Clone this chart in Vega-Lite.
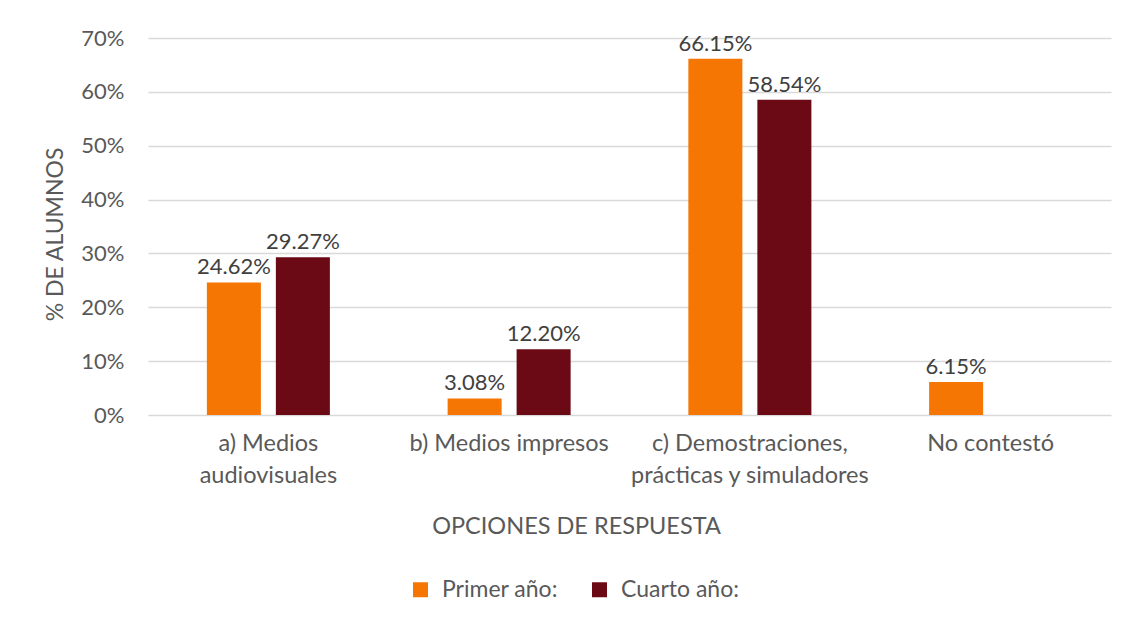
{
  "$schema": "https://vega.github.io/schema/vega-lite/v6.json",
  "autosize": {"type": "none"},
  "width": 963,
  "height": 377,
  "padding": {"left": 148, "top": 38, "right": 18, "bottom": 209},
  "background": "white",
  "config": {
    "view": {"stroke": null},
    "font": "Lato",
    "axis": {"labelFont": "Lato", "titleFont": "Lato"},
    "legend": {"labelFont": "Lato"}
  },
  "data": {
    "values": [
      {"opcion": "a) Medios|audiovisuales", "grupo": "Primer año:", "valor": 0.2462},
      {"opcion": "a) Medios|audiovisuales", "grupo": "Cuarto año:", "valor": 0.2927},
      {"opcion": "b) Medios impresos", "grupo": "Primer año:", "valor": 0.0308},
      {"opcion": "b) Medios impresos", "grupo": "Cuarto año:", "valor": 0.1220},
      {"opcion": "c) Demostraciones,|prácticas y simuladores", "grupo": "Primer año:", "valor": 0.6615},
      {"opcion": "c) Demostraciones,|prácticas y simuladores", "grupo": "Cuarto año:", "valor": 0.5854},
      {"opcion": "No contestó", "grupo": "Primer año:", "valor": 0.0615}
    ]
  },
  "encoding": {
    "x": {
      "field": "opcion",
      "type": "nominal",
      "sort": null,
      "scale": {"paddingInner": 0.489, "paddingOuter": 0.2445},
      "axis": {
        "title": "OPCIONES DE RESPUESTA",
        "titleFontSize": 23.5,
        "titleFontWeight": "normal",
        "titleColor": "#595959",
        "titlePadding": 28,
        "titleX": 428,
        "labelExpr": "split(datum.label, '|')",
        "labelAngle": 0,
        "labelFontSize": 23.5,
        "labelColor": "#595959",
        "labelLineHeight": 32,
        "labelPadding": 16,
        "labelLimit": 0,
        "ticks": false,
        "domain": false,
        "grid": false
      }
    },
    "xOffset": {
      "field": "grupo",
      "type": "nominal",
      "sort": ["Primer año:", "Cuarto año:"],
      "scale": {"domain": ["Primer año:", "Cuarto año:"], "paddingInner": 0.217, "paddingOuter": 0}
    },
    "y": {
      "field": "valor",
      "type": "quantitative",
      "scale": {"domain": [0, 0.7], "nice": false},
      "axis": {
        "title": "% DE ALUMNOS",
        "titleFontSize": 23,
        "titleFontWeight": "normal",
        "titleColor": "#595959",
        "titleX": -81,
        "titleY": 196,
        "values": [0, 0.1, 0.2, 0.3, 0.4, 0.5, 0.6, 0.7],
        "format": ".0%",
        "labelFontSize": 22,
        "labelColor": "#595959",
        "labelPadding": 24,
        "ticks": false,
        "domain": false,
        "grid": true,
        "gridColor": "#D9D9D9",
        "gridWidth": 1.5
      }
    }
  },
  "layer": [
    {
      "mark": {"type": "bar"},
      "encoding": {
        "color": {
          "field": "grupo",
          "type": "nominal",
          "scale": {"domain": ["Primer año:", "Cuarto año:"], "range": ["#F57603", "#6B0A14"]},
          "legend": {
            "title": null,
            "orient": "none",
            "direction": "horizontal",
            "legendX": 261,
            "legendY": 540,
            "symbolType": "square",
            "symbolSize": 225,
            "symbolStrokeWidth": 0,
            "labelFontSize": 23,
            "labelColor": "#595959",
            "labelOffset": 10,
            "columnPadding": 30
          }
        }
      }
    },
    {
      "mark": {"type": "text", "baseline": "alphabetic", "dy": -8, "fontSize": 22, "color": "#404040"},
      "encoding": {
        "text": {"field": "valor", "type": "quantitative", "format": ".2%"}
      }
    }
  ]
}
